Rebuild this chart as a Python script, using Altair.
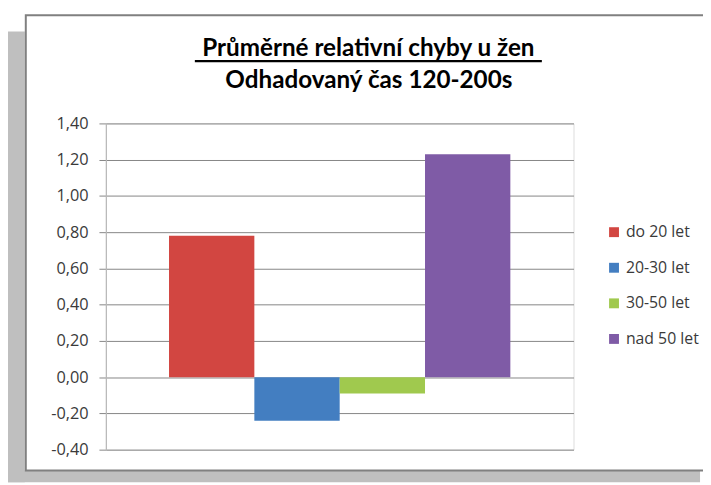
import altair as alt
import pandas as pd

series = ["do 20 let", "20-30 let", "30-50 let", "nad 50 let"]
values = [0.78, -0.24, -0.09, 1.23]
colors = ["#D24641", "#437EC1", "#A0C94E", "#7F5BA6"]
y_ticks = [-0.4, -0.2, 0.0, 0.2, 0.4, 0.6, 0.8, 1.0, 1.2, 1.4]
title_lines = ["Průměrné relativní chyby u žen", "Odhadovaný čas 120-200s"]

df = pd.DataFrame({"series": series, "value": values})
one = pd.DataFrame({"d": [0]})

FONT = "Open Sans"
TFONT = "Lato"

bars = alt.Chart(df).mark_bar().encode(
    x=alt.X("series:N", sort=series,
            scale=alt.Scale(paddingInner=0, paddingOuter=0.74), axis=None),
    y=alt.Y("value:Q",
            scale=alt.Scale(domain=[-0.4, 1.4], nice=False, zero=True),
            axis=alt.Axis(values=y_ticks, title=None,
                          labelExpr="replace(replace(format(datum.value, '.2f'), '.', ','), '\u2212', '-')",
                          labelFont=FONT, labelFontSize=16.5, labelColor="#3a3a3a",
                          labelPadding=11, tickSize=7, tickColor="#868686",
                          gridColor="#868686", gridWidth=1,
                          domainColor="#b8b8b8", domainWidth=1.2)),
    color=alt.Color("series:N", sort=series,
                    scale=alt.Scale(domain=series, range=colors),
                    legend=alt.Legend(title=None, orient="none", legendX=506, legendY=102,
                                      symbolType="square", symbolSize=100,
                                      symbolStrokeWidth=0, labelFont=FONT,
                                      labelFontSize=16, labelColor="#3a3a3a",
                                      rowPadding=20, labelOffset=4)),
)

left_strip = alt.Chart(one).mark_rect(color="#bfbfbf").encode(
    x=alt.value(-99), x2=alt.value(-82), y=alt.value(-93), y2=alt.value(363))
bottom_strip = alt.Chart(one).mark_rect(color="#bfbfbf").encode(
    x=alt.value(-99), x2=alt.value(601), y=alt.value(351), y2=alt.value(363))
border = alt.Chart(one).mark_rect(fill="transparent", stroke="#808080", strokeWidth=2).encode(
    x=alt.value(-81), x2=alt.value(620), y=alt.value(-109.5), y2=alt.value(351))

title1 = alt.Chart(one).mark_text(font=TFONT, fontSize=24.5, fontWeight="bold", color="black",
                                  align="center", baseline="alphabetic").encode(
    text=alt.value(title_lines[0]), x=alt.value(265.5), y=alt.value(-68))
title2 = alt.Chart(one).mark_text(font=TFONT, fontSize=24.5, fontWeight="bold", color="black",
                                  align="center", baseline="alphabetic").encode(
    text=alt.value(title_lines[1]), x=alt.value(266), y=alt.value(-36))
underline = alt.Chart(one).mark_rule(color="black", strokeWidth=2.5).encode(
    x=alt.value(90), x2=alt.value(441), y=alt.value(-63))

chart = alt.layer(left_strip, bottom_strip, border, bars, title1, title2, underline).properties(
    width=473, height=330,
    autosize=alt.AutoSizeParams(type="none"),
    padding={"left": 99, "top": 114, "right": 131, "bottom": 33},
).configure_view(stroke=None).configure(background="white")

chart.save("out.html", embed_options={"renderer": "svg", "actions": False})
